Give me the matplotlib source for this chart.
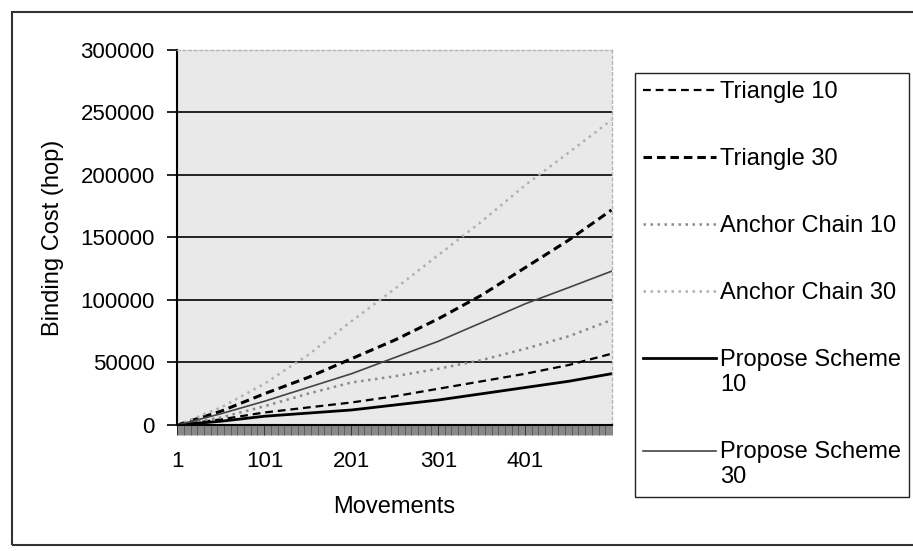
import matplotlib.pyplot as plt
import matplotlib.patches as patches
from matplotlib.legend_handler import HandlerLine2D
import numpy as np

plt.rcParams['font.family'] = ['Liberation Sans', 'DejaVu Sans']

# data (every 50 movements)
movements = [1, 51, 101, 151, 201, 251, 301, 351, 401, 451, 500]
triangle_10 = [0, 4500, 10000, 14000, 18000, 23000, 29000, 35000, 41000, 48000, 57000]
triangle_30 = [0, 11000, 25000, 38000, 53000, 68000, 85000, 104000, 126000, 148000, 172000]
anchor_10 = [0, 6000, 15000, 25000, 34000, 39000, 45000, 52000, 61000, 71000, 84000]
anchor_30 = [0, 14000, 33000, 56000, 83000, 109000, 136000, 163000, 192000, 218000, 244000]
propose_10 = [0, 3000, 7000, 9500, 12000, 16000, 20000, 25000, 30000, 35000, 41000]
propose_30 = [0, 9000, 19000, 30000, 41000, 54000, 67000, 82000, 97000, 110000, 123000]

x_ticks = [1, 101, 201, 301, 401]
y_ticks = [0, 50000, 100000, 150000, 200000, 250000, 300000]


# legend line sits on the first line of a two-line label, like Excel does
class RaisedLine(HandlerLine2D):
    def create_artists(self, legend, orig_handle, xdescent, ydescent,
                       width, height, fontsize, trans):
        artists = super().create_artists(legend, orig_handle, xdescent, ydescent,
                                         width, height, fontsize, trans)
        for a in artists:
            a.set_ydata(np.asarray(a.get_ydata()) + 0.6 * fontsize)
        return artists


fig = plt.figure(figsize=(9.13, 5.51), dpi=100)
ax = fig.add_axes([0.1939, 0.2287, 0.4764, 0.6806])
ax.set_facecolor('#e9e9e9')

# outer chart frame
fig.patches.append(patches.Rectangle((12 / 913, 6 / 551), 1.0, 533 / 551,
                                     transform=fig.transFigure, fill=False,
                                     edgecolor='#333333', linewidth=1.5))

l1, = ax.plot(movements, triangle_10, color='black', lw=1.6, dashes=(3.5, 2.2), label='Triangle 10')
l2, = ax.plot(movements, triangle_30, color='black', lw=2.2, dashes=(2.8, 1.6), label='Triangle 30')
l3, = ax.plot(movements, anchor_10, color='#8a8a8a', lw=1.8, dashes=(1, 1.8), label='Anchor Chain 10')
l4, = ax.plot(movements, anchor_30, color='#b0b0b0', lw=1.8, dashes=(1, 1.8), label='Anchor Chain 30')
l5, = ax.plot(movements, propose_10, color='black', lw=2.0, label='Propose Scheme\n10')
l6, = ax.plot(movements, propose_30, color='#444444', lw=1.2, label='Propose Scheme\n30')

ax.set_xlim(0.5, 500.5)
ax.set_ylim(0, 300000)
ax.set_yticks(y_ticks)
ax.set_yticklabels([str(v) for v in y_ticks])
ax.set_xticks(x_ticks)
ax.set_xticks(np.arange(1, 501), minor=True)
ax.tick_params(axis='x', which='minor', length=7, width=0.45, color='#444444')
ax.tick_params(axis='x', which='major', length=7, width=0.6, pad=12, labelsize=16)
ax.tick_params(axis='y', length=7, width=1.2, pad=9, labelsize=16)

ax.set_axisbelow(True)
ax.yaxis.grid(True, color='black', lw=1.2)
ax.yaxis.get_gridlines()[-1].set_visible(False)

for s in ['top', 'right']:
    ax.spines[s].set_color('#b5b5b5')
    ax.spines[s].set_linestyle((0, (2, 2)))
    ax.spines[s].set_linewidth(1)
ax.spines['left'].set_linewidth(1.5)
ax.spines['bottom'].set_linewidth(1.5)

ax.set_xlabel('Movements', fontsize=17, labelpad=17)
ax.set_ylabel('Binding Cost (hop)', fontsize=17, labelpad=12)

leg = fig.legend(handles=[l1, l2, l3, l4, l5, l6], loc='upper left',
                 bbox_to_anchor=(0.6955, 0.8675), borderaxespad=0, fontsize=17,
                 labelspacing=1.9, handlelength=3.1, handletextpad=0.15,
                 borderpad=0.35, fancybox=False, framealpha=1,
                 handler_map={l5: RaisedLine(), l6: RaisedLine()})
leg.get_frame().set_edgecolor('#222222')
leg.get_frame().set_linewidth(1.0)

fig.savefig('out.png', dpi=100)
